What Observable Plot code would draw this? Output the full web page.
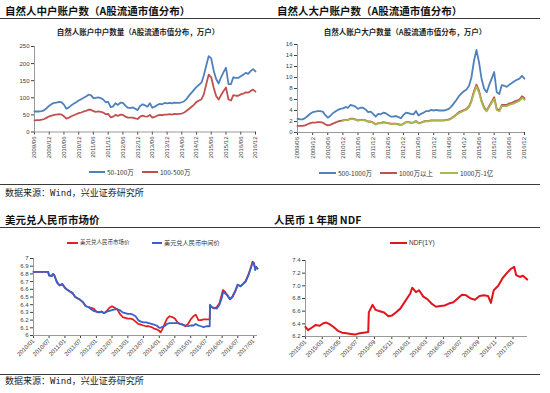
<!DOCTYPE html>
<html><head><meta charset="utf-8">
<script src="https://cdn.jsdelivr.net/npm/d3@7"></script>
<script src="https://cdn.jsdelivr.net/npm/@observablehq/plot@0.6"></script>
<style>
html,body{margin:0;padding:0;background:#fff}
#root{position:relative;width:550px;height:393px;overflow:hidden;background:#fff}
.t{position:absolute;white-space:nowrap;line-height:1;transform:translateY(-50%)}
.c{transform:translate(-50%,-50%)}
.title{font-family:"Noto Sans CJK SC";font-weight:700;font-size:10.5px;color:#111}
.sub{font-family:"Noto Sans CJK SC";font-weight:700;font-size:7.5px;color:#222}
.leg{font-family:"Noto Sans CJK SC","Liberation Sans";font-size:6.5px;color:#333}
.src{font-family:"Noto Sans CJK SC";font-size:9px;color:#222}
.rule{position:absolute;height:1px;background:#3a3a3a}
.sw{position:absolute;height:2px}
.plot{position:absolute}
</style></head><body><div id="root"></div>
<script>
// ---------- Data: top-left (自然人中户, 万户), monthly 2009/06 - 2016/12 ----------
const startMonthAB = "2009/06";
const endMonthAB = "2016/12";
const tickLabelsAB = ["2009/06","2009/12","2010/06","2010/12","2011/06","2011/12","2012/06","2012/12","2013/06","2013/12","2014/06","2014/12","2015/06","2015/12","2016/06","2016/12"];
const mid50_100 = [60,60,60,61,64,70,77,82,85,86, 88,87,80,68,72,78,83,87,92,96, 100,104,109,108,99,100,101,99,95,87, 88,73,75,84,79,86,85,77,71,70, 72,68,64,76,81,78,74,84,71,74, 79,82,81,85,84,85,84,86,85,85, 87,90,97,107,115,124,132,138,145,165, 195,222,215,180,155,142,160,175,188,140, 140,160,158,158,163,167,173,170,178,184, 177];
const mid100_500 = [34,35,35,36,38,42,46,48,50,51, 52,51,46,39,42,46,49,52,55,57, 60,62,65,65,61,59,60,59,57,52, 53,43,45,50,47,51,50,45,42,42, 42,40,38,45,48,46,45,50,42,44, 48,50,49,51,51,52,51,53,52,53, 54,57,62,68,74,80,88,92,96,110, 140,168,160,130,105,95,108,120,130,95, 92,108,106,106,110,112,116,115,120,124, 118];

// ---------- Data: top-right (自然人大户, 万户) ----------
const big500_1000 = [2.5,2.4,2.4,2.6,3.0,3.4,3.7,3.8,3.9,3.9, 3.8,3.2,2.7,3.0,3.5,3.8,4.1,4.3,4.4,4.6, 4.5,5.0,4.9,4.7,4.3,4.5,4.5,4.2,3.7,3.8, 3.4,2.9,3.4,3.3,3.6,3.5,3.2,2.9,2.9,3.0, 2.8,2.6,3.2,3.6,3.5,3.4,3.3,3.9,3.1,3.4, 3.6,3.9,3.9,4.1,4.0,4.1,4.0,4.0,4.0,4.1, 4.3,4.7,5.3,5.9,6.6,7.1,7.5,7.8,8.5,10.0, 13.0,15.0,12.8,9.8,8.0,7.3,8.6,9.8,11.0,7.3, 7.0,8.6,8.5,8.3,8.7,9.0,9.3,9.6,9.8,10.3, 9.8];
const big1000plus = [1.2,1.2,1.2,1.3,1.5,1.7,1.8,1.8,1.9,1.9, 1.8,1.5,1.3,1.4,1.6,1.8,2.0,2.1,2.2,2.3, 2.3,2.5,2.5,2.4,2.2,2.3,2.3,2.2,2.0,2.0, 1.8,1.5,1.7,1.7,1.9,1.8,1.7,1.6,1.6,1.6, 1.5,1.4,1.6,1.9,1.9,1.8,1.8,2.1,1.7,1.8, 2.0,2.1,2.1,2.2,2.2,2.2,2.2,2.2,2.2,2.3, 2.4,2.6,2.9,3.3,3.7,3.9,4.1,4.3,4.8,5.8, 7.5,8.7,7.6,5.8,4.6,4.0,4.8,5.6,6.4,4.3, 4.0,5.0,5.0,5.0,5.3,5.4,5.6,5.8,6.0,6.6, 6.2];
const big1000_1yi = [null,null,null,null,null,null,null,null,null,null, null,null,null,null,null,null,null,null,2.15,2.25, 2.25,2.45,2.45,2.35,2.15,2.25,2.25,2.15,1.95,1.95, 1.75,1.45,1.65,1.65,1.85,1.75,1.65,1.55,1.55,1.55, 1.45,1.35,1.55,1.85,1.85,1.75,1.75,2.05,1.65,1.75, 1.95,2.05,2.05,2.15,2.15,2.15,2.15,2.15,2.15,2.25, 2.3,2.5,2.8,3.2,3.55,3.75,3.95,4.15,4.6,5.6, 7.2,8.4,7.3,5.6,4.4,3.85,4.6,5.4,6.1,4.1, 3.85,4.8,4.8,4.8,5.05,5.15,5.35,5.55,5.75,6.3, 5.95];

// ---------- Data: bottom-left (美元兑人民币) ----------
const tickLabelsC = ["2010/01","2010/07","2011/01","2011/07","2012/01","2012/07","2013/01","2013/07","2014/01","2014/07","2015/01","2015/07","2016/01","2016/07","2017/01"];
const cnyDates = ["2010-01-01","2010-02-01","2010-03-01","2010-04-01","2010-05-01","2010-06-01","2010-06-20","2010-07-01","2010-08-01","2010-08-15","2010-09-01","2010-10-01","2010-11-01","2010-11-20","2010-12-01",
"2011-01-01","2011-02-01","2011-03-01","2011-04-01","2011-05-01","2011-06-01","2011-07-01","2011-08-01","2011-09-01","2011-10-01","2011-11-01","2011-12-01",
"2012-01-01","2012-02-01","2012-03-01","2012-04-01","2012-05-01","2012-06-01","2012-07-01","2012-08-01","2012-09-01","2012-10-01","2012-11-01","2012-12-01",
"2013-01-01","2013-02-01","2013-03-01","2013-04-01","2013-05-01","2013-06-01","2013-07-01","2013-08-01","2013-09-01","2013-10-01","2013-11-01","2013-12-01",
"2014-01-01","2014-01-15","2014-02-01","2014-03-01","2014-04-01","2014-05-01","2014-06-01","2014-07-01","2014-08-01","2014-09-01","2014-10-01","2014-11-01","2014-12-01",
"2015-01-01","2015-02-01","2015-03-01","2015-04-01","2015-05-01","2015-06-01","2015-07-01","2015-08-10","2015-08-13","2015-09-01","2015-10-01","2015-11-01","2015-12-01",
"2016-01-01","2016-01-10","2016-02-01","2016-03-01","2016-04-01","2016-05-01","2016-06-01","2016-07-01","2016-08-01","2016-09-01","2016-10-01","2016-11-01","2016-12-01","2016-12-20",
"2017-01-05","2017-01-20","2017-02-01","2017-02-15"];
const cnyMid = [6.827,6.827,6.826,6.826,6.827,6.827,6.827,6.78,6.77,6.80,6.78,6.69,6.65,6.66,6.67,
6.62,6.59,6.57,6.55,6.50,6.48,6.46,6.43,6.38,6.37,6.34,6.32,
6.31,6.30,6.31,6.29,6.31,6.32,6.33,6.34,6.34,6.33,6.30,6.29,
6.28,6.28,6.27,6.25,6.20,6.18,6.17,6.17,6.16,6.15,6.14,6.13,
6.10,6.10,6.11,6.12,6.15,6.16,6.16,6.16,6.16,6.15,6.14,6.13,6.12,
6.13,6.13,6.15,6.13,6.12,6.11,6.12,6.12,6.40,6.37,6.36,6.35,6.40,
6.50,6.56,6.55,6.53,6.47,6.50,6.57,6.66,6.64,6.67,6.70,6.78,6.88,6.95,
6.93,6.85,6.89,6.87];
const cnyMarket = [6.827,6.827,6.826,6.826,6.827,6.827,6.827,6.78,6.77,6.80,6.78,6.69,6.65,6.66,6.67,
6.62,6.59,6.57,6.55,6.50,6.48,6.46,6.43,6.38,6.37,6.36,6.35,
6.31,6.30,6.31,6.29,6.32,6.36,6.38,6.36,6.34,6.28,6.24,6.23,
6.22,6.22,6.21,6.18,6.15,6.14,6.13,6.12,6.12,6.11,6.09,6.08,
6.06,6.04,6.07,6.14,6.22,6.25,6.24,6.22,6.17,6.15,6.14,6.12,6.15,
6.21,6.25,6.27,6.20,6.20,6.21,6.21,6.21,6.39,6.37,6.35,6.37,6.42,
6.55,6.59,6.57,6.52,6.47,6.51,6.58,6.66,6.64,6.67,6.71,6.79,6.89,6.96,
6.94,6.86,6.89,6.87];

// ---------- Data: bottom-right (人民币 1 年期 NDF) ----------
const tickLabelsD = ["2015/01","2015/03","2015/05","2015/07","2015/09","2015/11","2016/01","2016/03","2016/05","2016/07","2016/09","2016/11","2017/01"];
const ndfDates = ["2015-01-01","2015-01-10","2015-01-20","2015-02-05","2015-02-20","2015-03-05","2015-03-15","2015-03-25","2015-04-10","2015-04-25","2015-05-10","2015-05-25","2015-06-10","2015-06-25","2015-07-10","2015-07-25","2015-08-10","2015-08-12","2015-08-25","2015-09-05","2015-09-20","2015-10-05","2015-10-20","2015-11-01","2015-11-15","2015-12-01","2015-12-20",
"2016-01-05","2016-01-12","2016-01-25","2016-02-05","2016-02-20","2016-03-05","2016-03-20","2016-04-05","2016-04-20","2016-05-05","2016-05-20","2016-06-05","2016-06-20","2016-07-05","2016-07-20","2016-08-05","2016-08-20","2016-09-05","2016-09-20","2016-10-05","2016-10-15","2016-10-25","2016-11-10","2016-11-25","2016-12-10","2016-12-25",
"2017-01-05","2017-01-12","2017-01-25","2017-02-05","2017-02-20"];
const ndfValues = [6.35,6.30,6.33,6.38,6.37,6.41,6.42,6.40,6.35,6.29,6.26,6.25,6.24,6.23,6.25,6.26,6.27,6.58,6.70,6.62,6.60,6.58,6.52,6.53,6.58,6.64,6.77,
6.88,6.97,6.90,6.93,6.83,6.79,6.72,6.67,6.68,6.69,6.72,6.74,6.80,6.86,6.85,6.80,6.78,6.84,6.85,6.84,6.73,6.93,7.00,7.12,7.20,7.27,
7.30,7.17,7.14,7.16,7.10];

// ---------- helpers ----------
const root = document.getElementById("root");
const pm = d3.utcParse("%Y/%m");
const pd = d3.utcParse("%Y-%m-%d");
const monthsAB = d3.utcMonth.range(pm(startMonthAB), d3.utcMonth.offset(pm(endMonthAB), 1));
function rows(dates, vals) { return dates.map((d, i) => ({date: d, value: vals[i]})); }
function el(cls, x, y, html, extra) {
  const d = document.createElement("div");
  d.className = cls; d.style.left = x + "px"; d.style.top = y + "px";
  if (extra) Object.assign(d.style, extra);
  d.innerHTML = html; root.appendChild(d); return d;
}
function rule(x, y, w) { const d = el("rule", x, y, ""); d.style.width = w + "px"; }
function swatch(x, y, w, color) { const d = el("sw", x, y - 1, ""); d.style.width = w + "px"; d.style.background = color; }
function chart(o) {
  const svg = Plot.plot({
    width: o.width, height: o.height,
    marginLeft: o.ml, marginRight: o.mr, marginTop: o.mt, marginBottom: o.mb,
    style: {fontSize: "6px", fontFamily: "Liberation Sans, Arial, sans-serif", color: "#404040", background: "transparent", overflow: "visible"},
    x: {type: "utc", domain: o.xDomain, ticks: o.xTicks, tickFormat: d3.utcFormat("%Y/%m"), tickRotate: o.xRotate, tickSize: 3, tickPadding: 1.5, label: null},
    y: {domain: o.yDomain, ticks: o.yTicks, tickFormat: o.yFmt, tickSize: 3, tickPadding: 2, label: null},
    marks: [
      Plot.ruleY([o.yDomain[0]], {stroke: "#9a9a9a"}),
      Plot.ruleX([o.xDomain[0]], {stroke: "#9a9a9a"}),
      ...o.series.map(s => Plot.lineY(s.data, {x: "date", y: "value", stroke: s.color, strokeWidth: s.w || 1.8}))
    ]
  });
  const wrap = document.createElement("div");
  wrap.className = "plot"; wrap.style.left = o.left + "px"; wrap.style.top = o.top + "px";
  wrap.appendChild(svg); root.appendChild(wrap);
}

// ---------- Top-left ----------
el("t title", 5, 11, "自然人中户账户数（A股流通市值分布）");
el("t c sub", 138, 32, "自然人账户中户数量（A股流通市值分布，万户）");
chart({left: 0, top: 40, width: 270, height: 125, ml: 34, mr: 15, mt: 6, mb: 33.5,
  xDomain: [monthsAB[0], monthsAB[monthsAB.length - 1]], xTicks: tickLabelsAB.map(pm), xRotate: -90,
  yDomain: [0, 250], yTicks: [0, 50, 100, 150, 200, 250], yFmt: d => String(d),
  series: [
    {data: rows(monthsAB, mid50_100), color: "#4F81BD"},
    {data: rows(monthsAB, mid100_500), color: "#C0504D"}
  ]});
swatch(89, 171.5, 16, "#4F81BD"); el("t leg", 107, 171.5, "50-100万");
swatch(142, 171.5, 16, "#C0504D"); el("t leg", 160, 171.5, "100-500万");

// ---------- Top-right ----------
el("t title", 277, 11, "自然人大户账户数（A股流通市值分布）");
el("t c sub", 405, 32, "自然人账户大户数量（A股流通市值分布，万户）");
chart({left: 275, top: 38, width: 265, height: 130, ml: 22, mr: 16, mt: 6, mb: 36,
  xDomain: [monthsAB[0], monthsAB[monthsAB.length - 1]], xTicks: tickLabelsAB.map(pm), xRotate: -90,
  yDomain: [0, 16], yTicks: [0, 2, 4, 6, 8, 10, 12, 14, 16], yFmt: d => String(d),
  series: [
    {data: rows(monthsAB, big500_1000), color: "#4F81BD"},
    {data: rows(monthsAB, big1000plus), color: "#C0504D"},
    {data: rows(monthsAB, big1000_1yi), color: "#A7B84F"}
  ]});
swatch(319, 173, 17, "#4F81BD"); el("t leg", 338, 173, "500-1000万");
swatch(380, 173, 17, "#C0504D"); el("t leg", 399, 173, "1000万以上");
swatch(440, 173, 18, "#A7B84F"); el("t leg", 460, 173, "1000万-1亿");

rule(0, 18, 540);
rule(0, 184, 540);
el("t src", 5, 193, "数据来源：<span style=\"font-family:'DejaVu Sans Mono'\">Wind</span>，兴业证券研究所");

// ---------- Bottom-left ----------
el("t title", 5, 220, "美元兑人民币市场价");
rule(0, 227, 540);
chart({left: 0, top: 252, width: 272, height: 120, ml: 33, mr: 15, mt: 6, mb: 37,
  xDomain: [pd("2010-01-01"), pd("2017-02-15")], xTicks: tickLabelsC.map(pm), xRotate: -45,
  yDomain: [6, 7], yTicks: d3.range(0, 11).map(i => +(6 + i / 10).toFixed(1)), yFmt: d => String(+d.toFixed(1)),
  series: [
    {data: rows(cnyDates.map(pd), cnyMarket), color: "#E31E24", w: 1.8},
    {data: rows(cnyDates.map(pd), cnyMid), color: "#3762CC", w: 1.8}
  ]});
swatch(67, 243, 11, "#E31E24"); el("t leg", 80, 243, "美元兑人民币市场价", {fontSize: "5.5px"});
swatch(152, 243, 10, "#3762CC"); el("t leg", 164, 243, "美元兑人民币中间价", {fontSize: "6.2px"});

// ---------- Bottom-right ----------
el("t title", 274, 220, "人民币 1 年期 NDF");
chart({left: 275, top: 254, width: 265, height: 120, ml: 30, mr: 13, mt: 6, mb: 38,
  xDomain: [pd("2015-01-01"), pd("2017-02-21")], xTicks: tickLabelsD.map(pm), xRotate: -45,
  yDomain: [6.2, 7.4], yTicks: [6.2, 6.4, 6.6, 6.8, 7.0, 7.2, 7.4], yFmt: d => d.toFixed(1),
  series: [
    {data: rows(ndfDates.map(pd), ndfValues), color: "#E3141C", w: 2}
  ]});
swatch(390, 243, 17, "#E3141C"); el("t leg", 409, 243, "NDF(1Y)", {fontFamily: "Liberation Sans"});

rule(0, 374, 540);
el("t src", 5, 381, "数据来源：<span style=\"font-family:'DejaVu Sans Mono'\">Wind</span>，兴业证券研究所");
</script></body></html>
